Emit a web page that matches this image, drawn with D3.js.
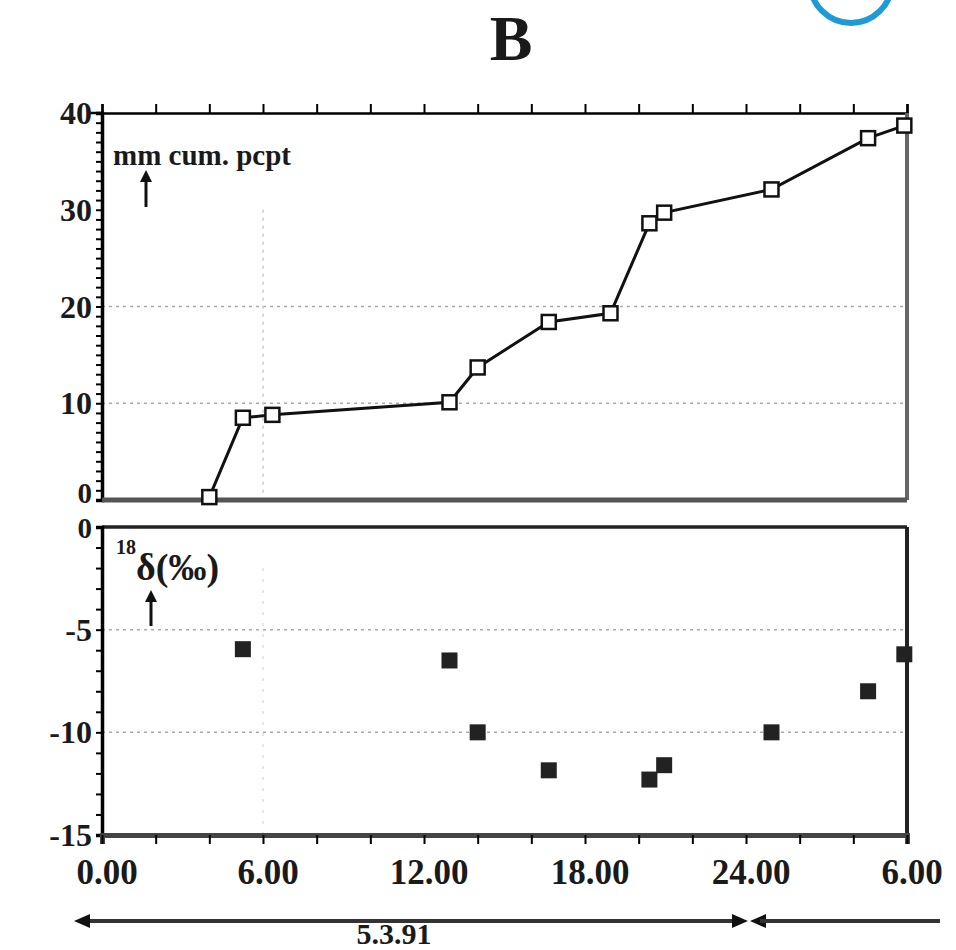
<!DOCTYPE html>
<html>
<head>
<meta charset="utf-8">
<script src="https://cdn.jsdelivr.net/npm/d3@7"></script>
<style>
  body { margin: 0; background: #fff; }
  svg text { font-family: "Liberation Serif", "DejaVu Serif", serif; font-weight: bold; fill: #1a1a1a; }
</style>
</head>
<body>
<div class="chart"></div>
<script>
// sample times (hours from 0.00 on 5.3.91)
var sampleHours = [4.0, 5.25, 6.35, 12.95, 14.0, 16.65, 18.95, 20.4, 20.95, 24.95, 28.55, 29.9]
// cumulative precipitation, mm
var cumPcpt = [0.3, 8.5, 8.8, 10.1, 13.7, 18.4, 19.3, 28.6, 29.7, 32.1, 37.4, 38.7]
// delta 18O (per mil), null where no sample
var delta18O = [null, -5.95, null, -6.5, -10.0, -11.85, null, -12.3, -11.6, -10.0, -8.0, -6.2]

var xTickValues = [0, 6, 12, 18, 24, 30]
var xTickLabels = ["0.00", "6.00", "12.00", "18.00", "24.00", "6.00"]
var topTicks = [0, 10, 20, 30, 40]
var bottomTicks = [0, -5, -10, -15]

var width = 956, height = 950
var svg = d3.select(".chart").append("svg")
    .attr("width", width).attr("height", height)

var x = d3.scaleLinear().domain([0, 30]).range([102, 907])
var yTop = d3.scaleLinear().domain([0, 40]).range([500, 113])
var yBot = d3.scaleLinear().domain([-15, 0]).range([835, 527])

// blue circle mark at top right
svg.append("circle").attr("cx", 851).attr("cy", -18).attr("r", 41)
    .attr("fill", "none").attr("stroke", "#1e9bd7").attr("stroke-width", 6)

// panel letter
svg.append("text").attr("x", 511).attr("y", 60)
    .attr("text-anchor", "middle").style("font-size", "64px").text("B")

// grid lines (faint, dotted)
function hgrid(scale, vals) {
  svg.append("g").selectAll("line").data(vals).enter().append("line")
      .attr("x1", x(0)).attr("x2", x(30))
      .attr("y1", function(d) { return scale(d) }).attr("y2", function(d) { return scale(d) })
      .attr("stroke", "#aaa").attr("stroke-width", 1.5).attr("stroke-dasharray", "3,4")
}
hgrid(yTop, [10, 20])
hgrid(yBot, [-5, -10])
svg.append("line").attr("x1", x(6)).attr("x2", x(6)).attr("y1", yTop(30)).attr("y2", yTop(0))
    .attr("stroke", "#ccc").attr("stroke-width", 1.5).attr("stroke-dasharray", "3,5")
svg.append("line").attr("x1", x(6)).attr("x2", x(6)).attr("y1", yBot(-2)).attr("y2", yBot(-15))
    .attr("stroke", "#ddd").attr("stroke-width", 1.5).attr("stroke-dasharray", "3,8")

// ---- top panel axes ----
var topAxis = d3.axisTop(x).tickValues(d3.range(0, 31, 2)).tickSize(9).tickFormat("")
svg.append("g").attr("transform", "translate(0," + yTop(40) + ")").call(topAxis)
    .call(function(g) { g.select(".domain").attr("stroke-width", 2.5) })
svg.append("line").attr("x1", 88).attr("x2", x(0)).attr("y1", yTop(40)).attr("y2", yTop(40))
    .attr("stroke", "#000").attr("stroke-width", 2.5)

var leftTop = d3.axisLeft(yTop).tickValues(d3.range(0, 41, 1)).tickSize(6).tickFormat("")
svg.append("g").attr("transform", "translate(" + x(0) + ",0)").call(leftTop)
    .call(function(g) { g.select(".domain").attr("stroke-width", 3.5) })
svg.append("g").selectAll("text").data(topTicks).enter().append("text")
    .attr("x", 92).attr("y", function(d) { return yTop(d) + (d === 0 ? 3 : 11) })
    .attr("text-anchor", "end").style("font-size", function(d) { return d === 0 ? "29px" : "32px" })
    .text(function(d) { return d })

// right and bottom borders of top panel
svg.append("line").attr("x1", x(30)).attr("x2", x(30)).attr("y1", yTop(40)).attr("y2", yTop(0))
    .attr("stroke", "#666").attr("stroke-width", 4)
svg.append("line").attr("x1", x(0)).attr("x2", x(30)).attr("y1", yTop(0)).attr("y2", yTop(0))
    .attr("stroke", "#555").attr("stroke-width", 5)

// ---- bottom panel axes ----
svg.append("line").attr("x1", x(0)).attr("x2", x(30)).attr("y1", yBot(0)).attr("y2", yBot(0))
    .attr("stroke", "#222").attr("stroke-width", 3.5)
svg.append("line").attr("x1", x(30)).attr("x2", x(30)).attr("y1", yBot(0)).attr("y2", yBot(-15))
    .attr("stroke", "#222").attr("stroke-width", 4)
var leftBot = d3.axisLeft(yBot).tickValues(d3.range(-15, 1, 1)).tickSize(6).tickFormat("")
svg.append("g").attr("transform", "translate(" + x(0) + ",0)").call(leftBot)
    .call(function(g) { g.select(".domain").attr("stroke-width", 3.5) })
svg.append("g").selectAll("text").data(bottomTicks).enter().append("text")
    .attr("x", 92).attr("y", function(d) { return yBot(d) + (d === 0 ? 11 : 11) })
    .attr("text-anchor", "end").style("font-size", function(d) { return d === 0 ? "29px" : "32px" })
    .text(function(d) { return d })

var bottomAxis = d3.axisBottom(x).tickValues(d3.range(0, 31, 2)).tickSize(9).tickFormat("")
svg.append("g").attr("transform", "translate(0," + yBot(-15) + ")").call(bottomAxis)
    .call(function(g) { g.select(".domain").attr("stroke", "#444").attr("stroke-width", 5) })
svg.append("g").selectAll("text").data(xTickValues).enter().append("text")
    .attr("x", function(d) { return x(d) + 5 }).attr("y", 884)
    .attr("text-anchor", "middle").style("font-size", "35px")
    .text(function(d, i) { return xTickLabels[i] })

svg.selectAll(".tick line").attr("stroke-width", 2)

// ---- labels inside panels ----
function upArrow(cx, y0, y1) {
  svg.append("line").attr("x1", cx).attr("x2", cx).attr("y1", y0).attr("y2", y1 + 6)
      .attr("stroke", "#111").attr("stroke-width", 3)
  svg.append("path").attr("d", "M" + (cx - 6) + "," + (y1 + 12) + "L" + cx + "," + y1 + "L" + (cx + 6) + "," + (y1 + 12) + "Z")
      .attr("fill", "#111")
}
svg.append("text").attr("x", 113).attr("y", 165).style("font-size", "29px").text("mm cum. pcpt")
upArrow(146, 207, 170)

var dl = svg.append("text").attr("x", 116).attr("y", 580).style("font-size", "38px")
dl.append("tspan").attr("dy", -26).style("font-size", "20px").text("18")
dl.append("tspan").attr("dy", 26).text("δ(‰)")
upArrow(151, 626, 590)

// ---- data: cumulative precipitation ----
var pts = sampleHours.map(function(h, i) { return { h: h, v: cumPcpt[i] } })
var line = d3.line().x(function(d) { return x(d.h) }).y(function(d) { return yTop(d.v) })
svg.append("path").datum(pts).attr("d", line)
    .attr("fill", "none").attr("stroke", "#111").attr("stroke-width", 3)
svg.append("g").selectAll("rect").data(pts).enter().append("rect")
    .attr("x", function(d) { return x(d.h) - 7 }).attr("y", function(d) { return yTop(d.v) - 7 })
    .attr("width", 14).attr("height", 14)
    .attr("fill", "#fff").attr("stroke", "#111").attr("stroke-width", 2.5)

// ---- data: delta 18O ----
var dpts = sampleHours.map(function(h, i) { return { h: h, v: delta18O[i] } })
    .filter(function(d) { return d.v !== null })
svg.append("g").selectAll("rect").data(dpts).enter().append("rect")
    .attr("x", function(d) { return x(d.h) - 8 }).attr("y", function(d) { return yBot(d.v) - 8 })
    .attr("width", 16).attr("height", 16).attr("fill", "#222")

// ---- date arrow under the axis ----
var ay = 921
svg.append("line").attr("x1", 80).attr("x2", 740).attr("y1", ay).attr("y2", ay)
    .attr("stroke", "#333").attr("stroke-width", 4)
svg.append("path").attr("d", "M74," + ay + "L90," + (ay - 7) + "L90," + (ay + 7) + "Z").attr("fill", "#111")
svg.append("path").attr("d", "M748," + ay + "L732," + (ay - 7) + "L732," + (ay + 7) + "Z").attr("fill", "#111")
svg.append("path").attr("d", "M750," + ay + "L766," + (ay - 7) + "L766," + (ay + 7) + "Z").attr("fill", "#111")
svg.append("line").attr("x1", 760).attr("x2", 940).attr("y1", ay).attr("y2", ay)
    .attr("stroke", "#333").attr("stroke-width", 4)
svg.append("text").attr("x", 394).attr("y", 944).attr("text-anchor", "middle")
    .style("font-size", "30px").attr("stroke", "#fff").attr("stroke-width", 3)
    .attr("paint-order", "stroke").text("5.3.91")
</script>
</body>
</html>
